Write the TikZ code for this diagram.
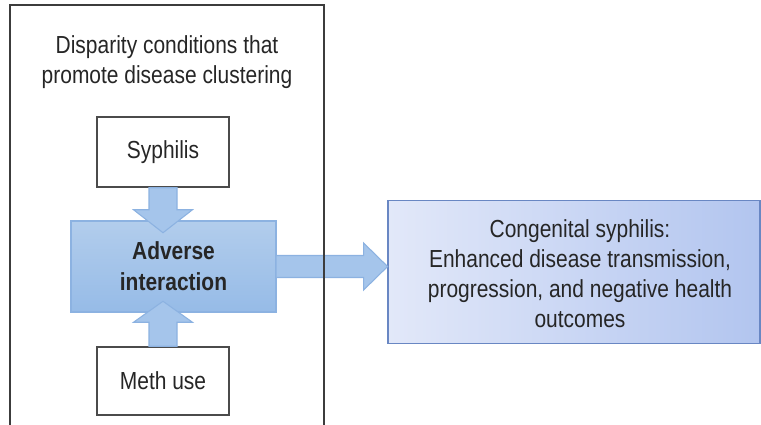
\documentclass[tikz,border=0pt]{standalone}
\usepackage{fontspec}
\setmainfont{Liberation Sans}[FakeStretch=0.85]
\usetikzlibrary{calc}
\definecolor{boxline}{RGB}{75,75,75}
\definecolor{framecol}{RGB}{60,60,60}
\definecolor{textgray}{RGB}{38,38,38}
\definecolor{advtop}{RGB}{178,205,236}
\definecolor{advbot}{RGB}{150,187,231}
\definecolor{advline}{RGB}{140,178,225}
\definecolor{arrfill}{RGB}{165,197,235}
\definecolor{conleft}{RGB}{226,232,249}
\definecolor{conright}{RGB}{178,197,239}
\definecolor{conline}{RGB}{105,135,195}
\begin{document}
\begin{tikzpicture}[x=0.75pt,y=-0.75pt,
  every node/.style={font=\fontsize{18.5}{22.5}\selectfont, text=textgray},
  wbox/.style={draw=boxline, line width=1.1pt, fill=white, minimum width=99pt, minimum height=52.5pt, inner sep=0pt},
  advbox/.style={draw=advline, line width=0.9pt, top color=advtop, bottom color=advbot, minimum width=153.75pt, minimum height=68.25pt, inner sep=0pt, align=center, font=\fontsize{18.5}{23}\selectfont\bfseries},
  congbox/.style={draw=conline, line width=1pt, left color=conleft, right color=conright, minimum width=279pt, minimum height=107.25pt, inner sep=0pt},
  blockarrow/.style={draw=advline, line width=0.8pt, fill=arrfill},
  framestyle/.style={draw=framecol, line width=0.9pt}]
\useasboundingbox (0,0) rectangle (761,425);

\node[align=center] (title) at (167,62) {Disparity conditions that\\promote disease clustering};

\node[wbox] (syph) at (163,152) {Syphilis};
\node[wbox, minimum height=51pt] (meth) at (163,381) {Meth use};
\node[advbox] (adv) at (173.5,266.5) {Adverse\\interaction};
\node[congbox] (cong) at (574,272) {};
\node[align=center] (congtext) at ($(cong.center)+(6,2)$) {Congenital syphilis:\\Enhanced disease transmission,\\progression, and negative health\\outcomes};

% down arrow from Syphilis
\draw[blockarrow] ($(syph.south)+(-14,0)$) -- ($(syph.south)+(14,0)$) -- ($(syph.south)+(14,22)$) -- ($(syph.south)+(29.5,22)$) -- ($(syph.south)+(0,45)$) -- ($(syph.south)+(-29.5,22)$) -- ($(syph.south)+(-14,22)$) -- cycle;
% up arrow from Meth use
\draw[blockarrow] ($(meth.north)+(-14,0)$) -- ($(meth.north)+(14,0)$) -- ($(meth.north)+(14,-24)$) -- ($(meth.north)+(29.5,-24)$) -- ($(meth.north)+(0,-45)$) -- ($(meth.north)+(-29.5,-24)$) -- ($(meth.north)+(-14,-24)$) -- cycle;
% right arrow to congenital box
\draw[blockarrow] ($(adv.east)+(0,-11)$) -- ($(adv.east)+(87,-11)$) -- ($(adv.east)+(87,-23.5)$) -- ($(adv.east)+(111,0)$) -- ($(adv.east)+(87,23.5)$) -- ($(adv.east)+(87,11)$) -- ($(adv.east)+(0,11)$);

% outer frame
\draw[framestyle] (10,425) -- (10,5) -- (324,5) -- (324,425);
\end{tikzpicture}
\end{document}
